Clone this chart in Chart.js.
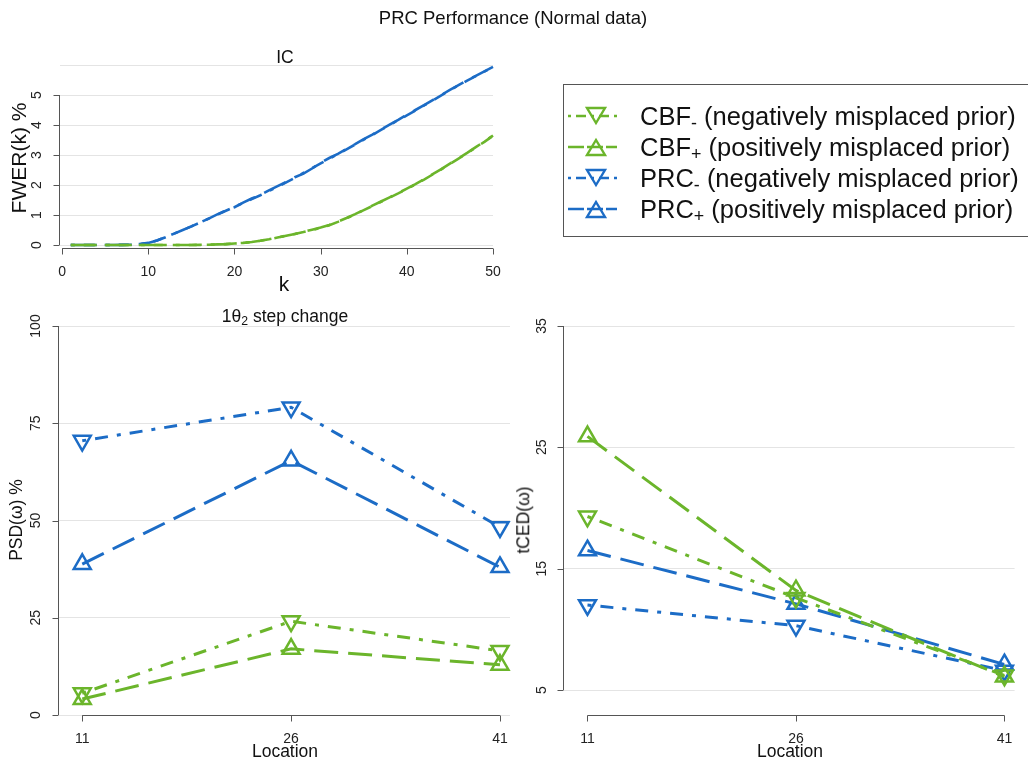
<!DOCTYPE html>
<html><head><meta charset="utf-8">
<script src="https://cdn.jsdelivr.net/npm/chart.js@4.4.1/dist/chart.umd.min.js"></script>
<style>
html,body{margin:0;padding:0;background:#fff;width:1028px;height:762px;overflow:hidden;font-family:"Liberation Sans",Arial,sans-serif;color:#111;}
canvas{position:absolute;left:0;top:0;}
.t{position:absolute;white-space:nowrap;transform:translate(-50%,-50%);line-height:1;}
.rot{transform:translate(-50%,-50%) rotate(-90deg);}
sub{font-size:70%;vertical-align:-0.25em;line-height:0;}
#legend{position:absolute;left:563px;top:84px;width:480px;height:153px;border:1px solid #555;box-sizing:border-box;}
.lrow{position:absolute;left:0;width:470px;height:30px;}
.lrow svg{position:absolute;left:3px;top:0;}
.lrow span{position:absolute;left:76px;top:50%;transform:translateY(-50%);font-size:25.5px;white-space:nowrap;}
</style>
</head><body>
<canvas id="cTop" width="1028" height="762"></canvas>
<canvas id="cPSD" width="1028" height="762"></canvas>
<canvas id="cCED" width="1028" height="762"></canvas>

<div class="t" style="left:513px;top:18px;font-size:18.5px;">PRC Performance (Normal data)</div>
<div class="t" style="left:285px;top:58px;font-size:17.5px;">IC</div>
<div class="t rot" style="left:18px;top:158px;font-size:21px;">FWER(k) %</div>
<div class="t" style="left:284px;top:283px;font-size:21px;">k</div>
<div class="t" style="left:285px;top:317px;font-size:17.5px;">1θ<sub>2</sub> step change</div>
<div class="t rot" style="left:17px;top:520px;font-size:17.5px;">PSD(ω) %</div>
<div class="t rot" style="left:524px;top:520px;font-size:17.5px;">tCED(ω)</div>
<div class="t" style="left:285px;top:752px;font-size:17.5px;">Location</div>
<div class="t" style="left:790px;top:752px;font-size:17.5px;">Location</div>

<div id="legend"></div>

<script>
// ---------- DATA ----------
const kValues = [1,2,3,4,5,6,7,8,9,10,11,12,13,14,15,16,17,18,19,20,21,22,23,24,25,26,27,28,29,30,31,32,33,34,35,36,37,38,39,40,41,42,43,44,45,46,47,48,49,50];
const fwerCBFneg = [0,0,0,0,0,0,0,0,0,0,0,0,0,0,0,0.005,0.01,0.02,0.03,0.05,0.07,0.1,0.14,0.19,0.25,0.31,0.37,0.43,0.5,0.57,0.66,0.77,0.89,1.02,1.16,1.3,1.44,1.58,1.72,1.87,2.02,2.18,2.35,2.52,2.7,2.88,3.06,3.25,3.44,3.64];
const fwerCBFpos = [0,0,0,0,0,0,0,0,0,0,0,0,0,0,0,0.005,0.01,0.02,0.03,0.05,0.07,0.1,0.14,0.19,0.25,0.31,0.37,0.44,0.51,0.58,0.67,0.78,0.9,1.03,1.17,1.31,1.45,1.59,1.73,1.88,2.03,2.19,2.36,2.53,2.71,2.89,3.07,3.26,3.45,3.65];
const fwerPRCneg = [0,0,0,0,0,0,0.005,0.01,0.03,0.07,0.15,0.26,0.38,0.5,0.62,0.75,0.88,1.01,1.14,1.27,1.4,1.53,1.66,1.8,1.94,2.09,2.24,2.4,2.56,2.72,2.88,3.03,3.19,3.35,3.51,3.67,3.84,4,4.16,4.32,4.48,4.65,4.82,4.99,5.16,5.32,5.48,5.63,5.78,5.93];
const fwerPRCpos = [0,0,0,0,0,0,0.005,0.01,0.03,0.07,0.15,0.26,0.38,0.5,0.62,0.75,0.88,1.02,1.15,1.26,1.41,1.55,1.67,1.82,1.96,2.1,2.26,2.38,2.55,2.74,2.9,3.04,3.2,3.36,3.53,3.68,3.85,4.01,4.17,4.34,4.5,4.66,4.83,5,5.17,5.33,5.49,5.64,5.79,5.94];

const locations = [11, 26, 41];
const psdCBFneg = [5.6, 24.1, 16.5];
const psdCBFpos = [4.1, 17.0, 12.9];
const psdPRCneg = [70.5, 79.1, 48.3];
const psdPRCpos = [38.8, 65.4, 38.0];

const tcedCBFneg = [19.3, 12.6, 6.2];
const tcedCBFpos = [25.9, 13.2, 6.1];
const tcedPRCneg = [12.0, 10.3, 6.6];
const tcedPRCpos = [16.5, 12.1, 7.1];

const seriesNames = ['CBF', 'CBF', 'PRC', 'PRC'];
const seriesSigns = ['-', '+', '-', '+'];
const seriesDesc = ['(negatively misplaced prior)', '(positively misplaced prior)', '(negatively misplaced prior)', '(positively misplaced prior)'];

const xTicksTop = [0, 10, 20, 30, 40, 50];
const yGridTop = [0, 1, 2, 3, 4, 5, 6];
const yTicksTop = [0, 1, 2, 3, 4, 5];
const yTicksPSD = [0, 25, 50, 75, 100];
const yTicksCED = [5, 15, 25, 35];

// ---------- STYLE ----------
const GREEN = '#6bb52b';
const BLUE = '#1c6cc6';
const DASH_DOT = [4, 9, 13, 9];
const LONG_DASH = [24, 10];
const seriesColors = [GREEN, GREEN, BLUE, BLUE];
const seriesDash = [DASH_DOT, LONG_DASH, DASH_DOT, LONG_DASH];
const seriesDown = [true, false, true, false];

const FONT = '"Liberation Sans", Arial, sans-serif';
const W = 1028, H = 762, YW = 40, XH = 30;

const rAxes = {
  id: 'rAxes',
  afterDraw(chart, args, opts) {
    const ctx = chart.ctx, a = chart.chartArea;
    const xs = chart.scales.x, ys = chart.scales.y;
    ctx.save();
    ctx.strokeStyle = '#555';
    ctx.lineWidth = 1;
    const xt = opts.xTicks, yt = opts.yTicks;
    const by = Math.round(a.bottom) + 0.5;
    ctx.beginPath();
    ctx.moveTo(xs.getPixelForValue(xt[0]), by);
    ctx.lineTo(xs.getPixelForValue(xt[xt.length - 1]), by);
    xt.forEach(v => { const p = Math.round(xs.getPixelForValue(v)) + 0.5; ctx.moveTo(p, by); ctx.lineTo(p, by + 6); });
    const lx = Math.round(a.left) - 0.5;
    ctx.moveTo(lx, ys.getPixelForValue(yt[0]));
    ctx.lineTo(lx, ys.getPixelForValue(yt[yt.length - 1]));
    yt.forEach(v => { const p = Math.round(ys.getPixelForValue(v)) + 0.5; ctx.moveTo(lx, p); ctx.lineTo(lx - 6, p); });
    ctx.stroke();
    ctx.restore();
  }
};

function makeChart(id, area, xCfg, yCfg, datasets, yPad, tickSize) {
  return new Chart(document.getElementById(id), {
    type: 'line',
    data: { datasets },
    options: {
      responsive: false,
      animation: false,
      devicePixelRatio: 1,
      events: [],
      layout: { padding: { left: area.left - YW, top: area.top, right: W - area.right, bottom: H - area.bottom - XH } },
      plugins: { legend: { display: false }, tooltip: { enabled: false }, rAxes: { xTicks: xCfg.ticks, yTicks: yCfg.labeled } },
      scales: {
        x: {
          type: 'linear', min: xCfg.min, max: xCfg.max,
          afterFit: s => { s.height = XH; },
          afterBuildTicks: s => { s.ticks = xCfg.ticks.map(v => ({ value: v })); },
          grid: { display: false, drawTicks: false },
          border: { display: false },
          ticks: { autoSkip: false, maxRotation: 0, minRotation: 0, padding: 15.5, color: '#222', font: { family: FONT, size: tickSize } }
        },
        y: {
          type: 'linear', min: yCfg.min, max: yCfg.max,
          afterFit: s => { s.width = YW; },
          afterBuildTicks: s => { s.ticks = yCfg.grid.map(v => ({ value: v })); },
          grid: { display: true, drawTicks: false, color: '#e4e4e4', lineWidth: 1 },
          border: { display: false },
          ticks: {
            autoSkip: false, minRotation: 90, maxRotation: 90, crossAlign: 'center', padding: yPad,
            color: '#222', font: { family: FONT, size: tickSize },
            callback: v => (yCfg.labeled.indexOf(v) >= 0 ? String(v) : '')
          }
        }
      }
    },
    plugins: [rAxes]
  });
}

function lineSet(i, xsArr, ysArr, withPoints, width) {
  return {
    label: seriesNames[i] + seriesSigns[i],
    data: xsArr.map((x, j) => ({ x: x, y: ysArr[j] })),
    borderColor: seriesColors[i],
    borderDash: seriesDash[i],
    borderWidth: width,
    backgroundColor: 'rgba(0,0,0,0)',
    fill: false,
    tension: 0,
    clip: false,
    pointStyle: 'triangle',
    rotation: seriesDown[i] ? 180 : 0,
    pointRadius: withPoints ? 9.8 : 0,
    pointBorderWidth: 2.5,
    pointBorderColor: seriesColors[i],
    pointBackgroundColor: 'rgba(0,0,0,0)'
  };
}

const fwer = [fwerCBFneg, fwerCBFpos, fwerPRCneg, fwerPRCpos];
const psd = [psdCBFneg, psdCBFpos, psdPRCneg, psdPRCpos];
const tced = [tcedCBFneg, tcedCBFpos, tcedPRCneg, tcedPRCpos];

makeChart('cTop', { left: 60, right: 493, top: 65, bottom: 248 },
  { min: -0.25, max: 50, ticks: xTicksTop },
  { min: -0.1, max: 6, grid: yGridTop, labeled: yTicksTop },
  [0, 1, 2, 3].map(i => lineSet(i, kValues, fwer[i], false, 2.6)), 19.4, 14);

makeChart('cPSD', { left: 59, right: 510, top: 326, bottom: 715 },
  { min: 9.33, max: 41.72, ticks: locations },
  { min: 0, max: 100, grid: yTicksPSD, labeled: yTicksPSD },
  [0, 1, 2, 3].map(i => lineSet(i, locations, psd[i], true, 3)), 11.3, 14);

makeChart('cCED', { left: 564, right: 1016, top: 326, bottom: 715 },
  { min: 9.31, max: 41.73, ticks: locations },
  { min: 2.94, max: 35, grid: yTicksCED, labeled: yTicksCED },
  [0, 1, 2, 3].map(i => lineSet(i, locations, tced[i], true, 3)), 14.5, 14);

// ---------- LEGEND ----------
const legend = document.getElementById('legend');
const rowTops = [16, 47, 78, 109];
for (let i = 0; i < 4; i++) {
  const row = document.createElement('div');
  row.className = 'lrow';
  row.style.top = rowTops[i] + 'px';
  const c = seriesColors[i];
  const tri = seriesDown[i] ? '20,7 38,7 29,22' : '20,23 38,23 29,8';
  row.innerHTML =
    '<svg width="56" height="30" viewBox="0 0 56 30">' +
    '<line x1="1" y1="15" x2="50" y2="15" stroke="' + c + '" stroke-width="2.6" stroke-dasharray="' + (seriesDown[i] ? '3,5,10,5' : '16,3') + '"/>' +
    '<polygon points="' + tri + '" fill="none" stroke="' + c + '" stroke-width="2.4"/></svg>' +
    '<span>' + seriesNames[i] + '<sub>' + (seriesSigns[i] === '-' ? '-' : '+') + '</sub> ' + seriesDesc[i] + '</span>';
  legend.appendChild(row);
}
</script>
</body></html>
